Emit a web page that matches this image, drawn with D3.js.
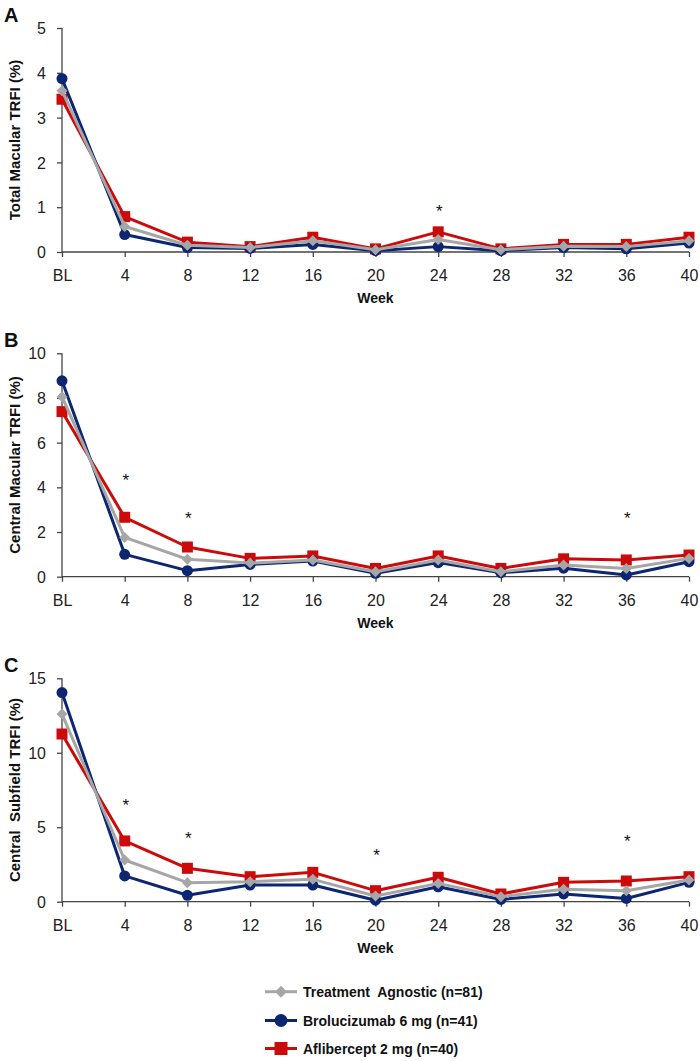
<!DOCTYPE html>
<html><head><meta charset="utf-8">
<script src="https://cdn.jsdelivr.net/npm/d3@7"></script>
<style>
body{margin:0;background:#fff;}
svg{display:block;}
.tick text{font-family:"Liberation Sans Narrow","Arial Narrow","Liberation Sans",Arial,sans-serif;font-size:16px;fill:#222;}
</style></head>
<body><svg id="chart" width="700" height="1061"></svg>
<script>
const weeks = ["BL","4","8","12","16","20","24","28","32","36","40"];
const seriesNames = ["Treatment  Agnostic (n=81)","Brolucizumab 6 mg (n=41)","Aflibercept 2 mg (n=40)"];
const seriesColors = ["#a6a6a6","#0c2672","#cc0a0a"];
const seriesShapes = ["diamond","circle","square"];

// Panel A: Total Macular TRFI (%)
const aAgnostic = [3.60,0.57,0.15,0.10,0.25,0.05,0.28,0.05,0.13,0.12,0.25];
const aBroluc   = [3.87,0.39,0.10,0.08,0.17,0.03,0.12,0.03,0.10,0.07,0.20];
const aAflib    = [3.41,0.79,0.22,0.12,0.33,0.07,0.45,0.07,0.17,0.17,0.33];
const aStars = ["24"];
const aStarY = [1.05];
// Panel B: Central Macular TRFI (%)
const bAgnostic = [8.06,1.76,0.78,0.61,0.75,0.22,0.75,0.22,0.52,0.37,0.82];
const bBroluc   = [8.77,1.00,0.27,0.55,0.70,0.15,0.63,0.18,0.38,0.08,0.67];
const bAflib    = [7.39,2.66,1.33,0.82,0.93,0.37,0.93,0.37,0.80,0.75,0.97];
const bStars = ["4","8","36"];
const bStarY = [4.6,2.9,2.9];
// Panel C: Central Subfield TRFI (%)
const cAgnostic = [12.60,2.80,1.28,1.34,1.50,0.38,1.23,0.34,0.83,0.74,1.46];
const cBroluc   = [14.04,1.73,0.43,1.12,1.12,0.10,1.00,0.15,0.52,0.22,1.30];
const cAflib    = [11.26,4.08,2.24,1.68,1.97,0.74,1.64,0.52,1.30,1.39,1.68];
const cStars = ["4","8","20","36"];
const cStarY = [6.9,4.7,3.5,4.5];

const panels = [
  {letter:"A", title:"Total Macular TRFI (%)", max:5, ticks:[0,1,2,3,4,5], data:[aAgnostic,aBroluc,aAflib], stars:aStars, starY:aStarY, top:28, bottom:252},
  {letter:"B", title:"Central Macular TRFI (%)", max:10, ticks:[0,2,4,6,8,10], data:[bAgnostic,bBroluc,bAflib], stars:bStars, starY:bStarY, top:353.3, bottom:576.7},
  {letter:"C", title:"Central  Subfield TRFI (%)", max:15, ticks:[0,5,10,15], data:[cAgnostic,cBroluc,cAflib], stars:cStars, starY:cStarY, top:678.3, bottom:901.7}
];

const svg = d3.select("#chart");
const x = d3.scalePoint().domain(weeks).range([62,689]);
const boldFont = '"Liberation Sans",Arial,sans-serif';

function drawMarker(g, shape, cx, cy, color){
  if(shape==="circle"){
    g.append("circle").attr("cx",cx).attr("cy",cy).attr("r",5.5).attr("fill",color);
  } else if(shape==="square"){
    g.append("rect").attr("x",cx-5.5).attr("y",cy-5.5).attr("width",11).attr("height",11).attr("fill",color);
  } else {
    const s=5.5;
    g.append("path").attr("d",`M${cx},${cy-s}L${cx+s},${cy}L${cx},${cy+s}L${cx-s},${cy}Z`).attr("fill",color);
  }
}

panels.forEach(p=>{
  const y = d3.scaleLinear().domain([0,p.max]).range([p.bottom,p.top]);
  const g = svg.append("g");
  const yAx = g.append("g").attr("transform","translate(62,0)")
    .call(d3.axisLeft(y).tickValues(p.ticks).tickSize(5).tickPadding(11).tickFormat(d3.format("d")));
  const xAx = g.append("g").attr("transform",`translate(0,${p.bottom})`)
    .call(d3.axisBottom(x).tickSize(5).tickPadding(13));
  [yAx,xAx].forEach(a=>{a.selectAll("path,line").attr("stroke","#444").attr("stroke-width",1.3);});
  yAx.select(".domain").attr("d",`M0,${p.bottom}V${p.top}`);
  xAx.select(".domain").attr("d",`M62,0H689`);
  yAx.selectAll(".tick text").attr("dy","0.35em");
  xAx.selectAll(".tick text").attr("dy","0.71em");

  g.append("text").attr("x",4).attr("y",p.top-6).text(p.letter)
    .attr("font-family",boldFont).attr("font-weight","bold").attr("font-size",20).attr("fill","#111");
  g.append("text").attr("transform",`translate(19.5,${(p.top+p.bottom)/2}) rotate(-90)`)
    .attr("text-anchor","middle").text(p.title).style("white-space","pre")
    .attr("font-family",boldFont).attr("font-weight","bold").attr("font-size",15).attr("fill","#111");
  g.append("text").attr("x",375.5).attr("y",p.bottom+51).attr("text-anchor","middle").text("Week")
    .attr("font-family",boldFont).attr("font-weight","bold").attr("font-size",14).attr("fill","#111");

  [2,1,0].forEach(i=>{
    const vals = p.data[i];
    const line = d3.line().x((d,j)=>x(weeks[j])).y(d=>y(d));
    g.append("path").attr("d",line(vals)).attr("fill","none").attr("stroke",seriesColors[i]).attr("stroke-width",3).attr("stroke-linejoin","round");
    vals.forEach((v,j)=>drawMarker(g,seriesShapes[i],x(weeks[j]),y(v),seriesColors[i]));
  });

  p.stars.forEach((w,k)=>{
    g.append("text").attr("x",x(w)+1).attr("y",y(p.starY[k])).attr("dy","0.7em").attr("text-anchor","middle").text("*")
      .attr("font-family",boldFont).attr("font-size",17).attr("fill","#111");
  });
});

const leg = svg.append("g");
const legY = [991.7,1020.5,1048.5];
seriesNames.forEach((n,i)=>{
  leg.append("line").attr("x1",265).attr("x2",297).attr("y1",legY[i]).attr("y2",legY[i]).attr("stroke",seriesColors[i]).attr("stroke-width",3);
  const sz = i===0?6:6.5;
  if(seriesShapes[i]==="circle") leg.append("circle").attr("cx",281).attr("cy",legY[i]).attr("r",sz).attr("fill",seriesColors[i]);
  else if(seriesShapes[i]==="square") leg.append("rect").attr("x",281-sz).attr("y",legY[i]-sz).attr("width",2*sz).attr("height",2*sz).attr("fill",seriesColors[i]);
  else leg.append("path").attr("d",`M281,${legY[i]-sz}L${281+sz},${legY[i]}L281,${legY[i]+sz}L${281-sz},${legY[i]}Z`).attr("fill",seriesColors[i]);
  leg.append("text").attr("x",303).attr("y",legY[i]).attr("dy","0.36em").text(n).style("white-space","pre")
    .attr("font-family",boldFont).attr("font-weight","bold").attr("font-size",14).attr("fill","#111");
});
</script></body></html>
